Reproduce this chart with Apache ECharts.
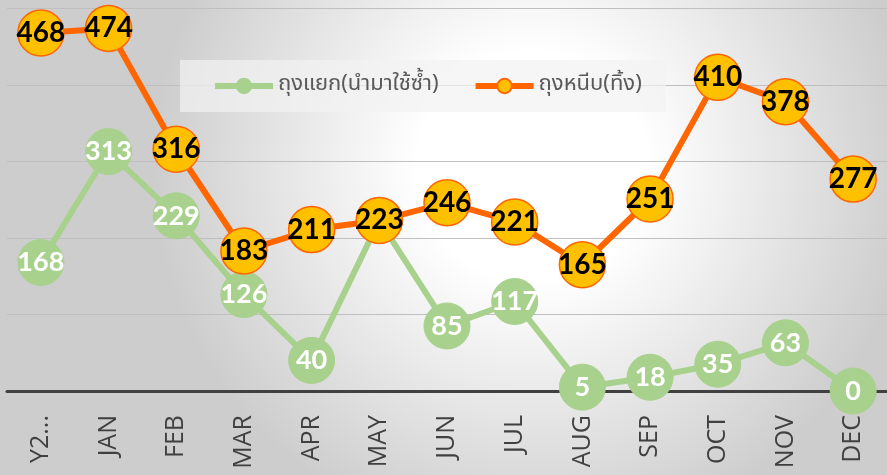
<!DOCTYPE html>
<html>
<head>
<meta charset="utf-8">
<script src="https://cdn.jsdelivr.net/npm/echarts@6/dist/echarts.min.js"></script>
<style>
  html, body { margin: 0; padding: 0; }
  #main { width: 887px; height: 475px; }
</style>
</head>
<body>
<div id="main"></div>
<script>
var months = ['Y2...', 'JAN', 'FEB', 'MAR', 'APR', 'MAY', 'JUN', 'JUL', 'AUG', 'SEP', 'OCT', 'NOV', 'DEC'];
var reuseBags = [168, 313, 229, 126, 40, 223, 85, 117, 5, 18, 35, 63, 0];
var throwBags = [468, 474, 316, 183, 211, 223, 246, 221, 165, 251, 410, 378, 277];
var reuseName = 'ถุงแยก(นำมาใช้ซ้ำ)';
var throwName = 'ถุงหนีบ(ทิ้ง)';

var chart = echarts.init(document.getElementById('main'));
var option = {
    backgroundColor: {
        type: 'radial', x: 0.6, y: 0.35, r: 0.8,
        colorStops: [
            { offset: 0, color: '#ffffff' },
            { offset: 0.3, color: '#ffffff' },
            { offset: 1, color: '#cdcdcd' }
        ]
    },
    animation: false,
    legend: {
        left: 180, top: 60,
        padding: [15, 24, 15, 32],
        backgroundColor: 'rgba(242,242,242,0.7)',
        itemWidth: 58, itemHeight: 18, itemGap: 34,
        lineStyle: { width: 6 },
        textStyle: { fontFamily: 'Noto Sans Thai, Noto Sans, sans-serif', fontSize: 22, color: '#595959' },
        data: [reuseName, throwName]
    },
    grid: { left: 7, right: 0, top: 8.5, bottom: 84, containLabel: false },
    xAxis: {
        type: 'category',
        data: months,
        axisLine: { lineStyle: { color: '#404040', width: 3 } },
        axisTick: { show: false },
        axisLabel: { rotate: 90, fontSize: 25, color: '#404040', fontFamily: 'Open Sans, sans-serif', margin: 24, interval: 0 }
    },
    yAxis: {
        type: 'value', min: 0, max: 500, interval: 100,
        axisLabel: { show: false },
        axisLine: { show: false },
        axisTick: { show: false },
        splitLine: { lineStyle: { color: '#bfbfbf', width: 1 } }
    },
    series: [
        {
            name: reuseName, type: 'line', data: reuseBags,
            symbol: 'circle', symbolSize: 46, z: 2,
            lineStyle: { color: '#a9d18e', width: 6 },
            itemStyle: { color: '#a9d18e', borderColor: '#a9d18e', borderWidth: 1 },
            label: { show: true, position: 'inside', color: '#ffffff', fontWeight: 'bold', fontSize: 27, fontFamily: 'Lato, Open Sans, sans-serif' }
        },
        {
            name: throwName, type: 'line', data: throwBags,
            symbol: 'circle', symbolSize: 46, z: 3,
            lineStyle: { color: '#ff6600', width: 6 },
            itemStyle: { color: '#ffc000', borderColor: '#ff6600', borderWidth: 1.5 },
            label: { show: true, position: 'inside', color: '#000000', fontWeight: 'bold', fontSize: 28, fontFamily: 'Lato, Open Sans, sans-serif' }
        }
    ]
};
chart.setOption(option);
</script>
</body>
</html>
